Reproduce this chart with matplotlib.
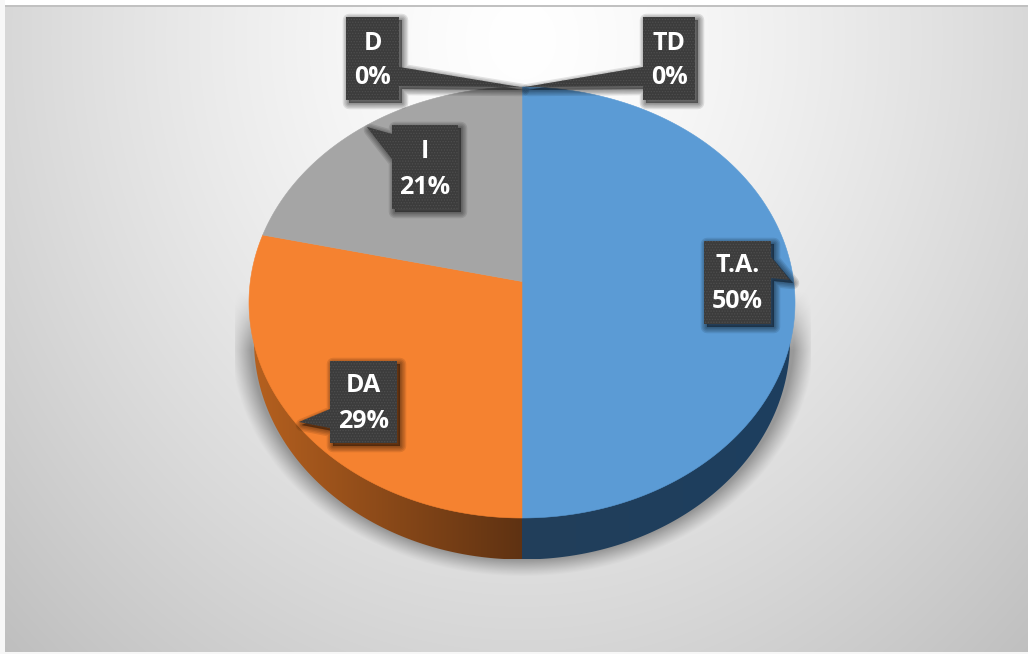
import matplotlib

matplotlib.use("Agg")
import matplotlib.pyplot as plt
import numpy as np
from matplotlib.colors import LinearSegmentedColormap
from matplotlib.patches import Polygon

plt.rcParams["font.family"] = ["Open Sans", "DejaVu Sans"]
plt.rcParams["hatch.linewidth"] = 0.6

W, H = 1028, 654
CX, CY, RX, RY = 522, 302.5, 273, 215.5
# base del cilindro, algo mas estrecha por la perspectiva
BASE_CY, BASE_RX, BASE_RY = 340.5, 268, 219
# desplazamiento del centro aparente de la cara superior
PERSPECTIVA = 0.0975

categorias = ["T.A.", "DA", "I", "D", "TD"]
respuestas = [7, 4, 3, 0, 0]
colores = ["#5B9BD5", "#F58230", "#A5A5A5", "#8A6D3B", "#264478"]

# caja de cada etiqueta: x0, y0, x1, y1, punta, base del puntero
cajas = {
    "T.A.": (704, 241, 771, 324, (790, 280), [(771, 257), (771, 278)]),
    "DA": (330, 361, 397, 443, (299, 422), [(330, 428), (330, 409)]),
    "I": (392, 125, 458, 209, (367, 127), [(392, 134), (392, 159)]),
    "D": (346, 17, 399, 100, (520, 87), [(399, 86), (399, 67)]),
    "TD": (643, 17, 695, 100, (525, 87), [(643, 67), (643, 86)]),
}
lineas_y = {
    "T.A.": (265, 301),
    "DA": (385, 422),
    "I": (152, 188),
    "D": (43, 78),
    "TD": (43, 78),
}


def fondo():
    yy, xx = np.mgrid[0:H, 0:W]
    d = np.sqrt(((xx - 522) / 520.0) ** 2 + ((yy - 40) / 600.0) ** 2)
    valor = np.clip(255 - 40 * d**1.35, 0, 255) / 255
    img = np.dstack([valor, valor, valor])
    # marco de la captura
    img[:5, :] = 1.0
    img[5:7, :] = 0.76
    img[:, :5] = 0.97
    img[H - 2 :, :] = 0.97
    return img


def sombra_pastel():
    yy, xx = np.mgrid[0:H, 0:W]
    d = np.sqrt(((xx - CX) / 292.0) ** 2 + ((yy - 338) / 238.0) ** 2)
    alfa = np.clip((1 - d) / 0.07, 0, 1) ** 1.1 * 0.62
    alfa *= np.clip((yy - 290) / 60.0, 0, 1)
    alfa[(yy > 575) | (xx < 235) | (xx > 810)] = 0
    img = np.zeros((H, W, 4))
    img[..., :3] = 0.42
    img[..., 3] = alfa
    return img


def dibujar_lateral(ax, valores):
    total = sum(valores)
    mapas = [
        ["#223E5A", "#1D3F5F"],
        ["#B5601F", "#5F3212"],
    ]
    inicio = 0.0
    for valor, mapa in zip(valores, mapas):
        fin = inicio + 360 * valor / total
        angulos = np.radians(np.linspace(max(inicio, 90), min(fin, 270), 120))
        xs = CX + BASE_RX * np.sin(angulos)
        ys = BASE_CY - BASE_RY * np.cos(angulos)
        puntos = list(zip(xs, ys)) + [(CX, BASE_CY)]
        forma = Polygon(puntos, transform=ax.transData, fc="none", ec="none")
        ax.add_patch(forma)
        cmap = LinearSegmentedColormap.from_list("lado", mapa)
        img = ax.imshow(
            np.linspace(0, 1, 256)[None, :],
            cmap=cmap,
            extent=(xs.min(), xs.max(), BASE_CY + BASE_RY, BASE_CY),
            aspect="auto",
            zorder=3,
        )
        img.set_clip_path(forma)
        inicio = fin


def proyectar(x, y):
    # lleva el disco unidad en si mismo moviendo el centro hacia arriba
    a = PERSPECTIVA
    den = 1 + a * y
    return x * np.sqrt(1 - a**2) / den, (y + a) / den


def dibujar_etiqueta(ax, nombre, pct):
    x0, y0, x1, y1, punta, base = cajas[nombre]
    contorno = {
        "T.A.": [(x0, y0), (x1, y0), base[0], punta, base[1], (x1, y1), (x0, y1)],
        "DA": [(x0, y0), (x1, y0), (x1, y1), (x0, y1), base[0], punta, base[1]],
        "I": [(x0, y0), (x1, y0), (x1, y1), (x0, y1), base[1], punta, base[0]],
        "D": [(x0, y0), (x1, y0), base[1], punta, base[0], (x1, y1), (x0, y1)],
        "TD": [(x0, y0), (x1, y0), (x1, y1), (x0, y1), base[1], punta, base[0]],
    }[nombre]
    sombra = [(x + 3, y + 3) for x, y in contorno]
    for lw in (9, 7, 5, 3, 1):
        ax.add_patch(
            Polygon(sombra, fc="#000000", ec="#000000", lw=lw, alpha=0.1, joinstyle="round", zorder=5)
        )
    ax.add_patch(
        Polygon(contorno, fc="#3C3C3C", ec="#4E4E4E", lw=0, hatch="......", zorder=6)
    )
    y_a, y_b = lineas_y[nombre]
    xc = (x0 + x1) / 2
    ax.text(xc, y_a, nombre, color="white", fontsize=18, fontweight="bold",
            ha="center", va="center", zorder=7)
    ax.text(xc, y_b, f"{pct:.0f}%", color="white", fontsize=18, fontweight="bold",
            ha="center", va="center", zorder=7)


fig = plt.figure(figsize=(W / 100, H / 100), dpi=100)

ax = fig.add_axes([0, 0, 1, 1], zorder=1)
ax.imshow(fondo(), extent=(0, W, H, 0), aspect="auto", zorder=0)
ax.imshow(sombra_pastel(), extent=(0, W, H, 0), aspect="auto", zorder=1)
dibujar_lateral(ax, respuestas)
ax.set_xlim(0, W)
ax.set_ylim(H, 0)
ax.axis("off")

ax_pie = fig.add_axes([0, 0, 1, 1], zorder=2)
cunas, _ = ax_pie.pie(
    respuestas,
    colors=colores,
    startangle=90,
    counterclock=False,
    radius=1,
)
for cuna in cunas:
    if cuna.theta2 - cuna.theta1 > 0:
        t = np.radians(np.linspace(cuna.theta1, cuna.theta2, 240))
        u, v = proyectar(np.r_[np.cos(t), 0.0], np.r_[np.sin(t), 0.0])
        color = cuna.get_facecolor()
        ax_pie.add_patch(Polygon(np.c_[u, v], fc=color, ec=color, lw=0.4))
    cuna.remove()
ax_pie.set_aspect("auto")
ax_pie.set_xlim((0 - CX) / RX, (W - CX) / RX)
ax_pie.set_ylim((CY - H) / RY, CY / RY)
ax_pie.axis("off")

ax_txt = fig.add_axes([0, 0, 1, 1], zorder=3)
ax_txt.set_xlim(0, W)
ax_txt.set_ylim(H, 0)
ax_txt.axis("off")
total = sum(respuestas)
for nombre, valor in zip(categorias, respuestas):
    dibujar_etiqueta(ax_txt, nombre, 100 * valor / total)

fig.savefig("out.png", dpi=100)
plt.close(fig)
